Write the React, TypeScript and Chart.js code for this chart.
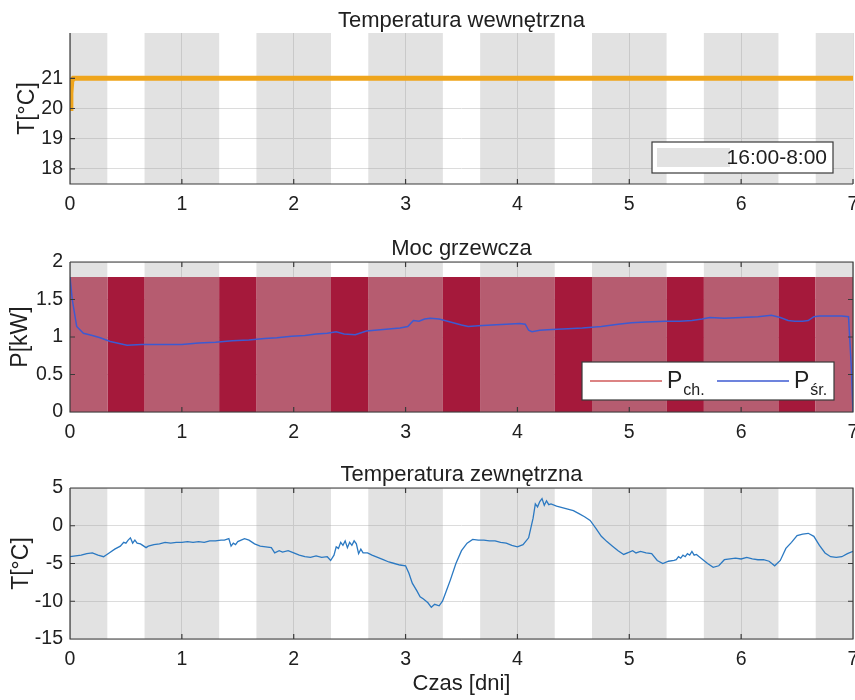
import React, { useEffect, useRef } from "react";
import { Chart, registerables } from "chart.js";

Chart.register(...registerables);

// ---------- data ----------
const xTicksDays = [0, 1, 2, 3, 4, 5, 6, 7];
const nightLabel = "16:00-8:00";
// night hours 16:00-8:00 expressed in days
const nightBands: [number, number][] = [
  [0, 1 / 3], [2 / 3, 4 / 3], [5 / 3, 7 / 3], [8 / 3, 10 / 3],
  [11 / 3, 13 / 3], [14 / 3, 16 / 3], [17 / 3, 19 / 3], [20 / 3, 7],
];
const dayBands: [number, number][] = [
  [1 / 3, 2 / 3], [4 / 3, 5 / 3], [7 / 3, 8 / 3], [10 / 3, 11 / 3],
  [13 / 3, 14 / 3], [16 / 3, 17 / 3], [19 / 3, 20 / 3],
];

// indoor temperature
const inTime = [0, 0.008, 0.016, 0.03, 7];
const inTemp = [20.0, 20.5, 20.9, 21.0, 21.0];
const inTempTicks = [18, 19, 20, 21];

// heating power
const pChMax = 1.8;
const pTicks = [0, 0.5, 1, 1.5, 2];
const pTime = [0, 0.02, 0.06, 0.12, 0.2, 0.27, 0.36, 0.45, 0.51, 0.64, 0.85, 1.0, 1.15, 1.3, 1.45, 1.6, 1.74, 1.85, 1.98, 2.1, 2.2, 2.3, 2.38, 2.45, 2.55, 2.65, 2.8, 2.95, 3.02, 3.07, 3.12, 3.17, 3.22, 3.3, 3.4, 3.5, 3.56, 3.65, 3.77, 3.9, 4.02, 4.07, 4.1, 4.13, 4.2, 4.31, 4.45, 4.58, 4.75, 4.9, 5.02, 5.15, 5.32, 5.45, 5.56, 5.65, 5.72, 5.85, 6.0, 6.15, 6.27, 6.35, 6.42, 6.48, 6.55, 6.6, 6.65, 6.7, 6.8, 6.9, 6.96, 6.985, 7.0];
const pAvg = [1.8, 1.5, 1.14, 1.05, 1.02, 0.99, 0.94, 0.91, 0.89, 0.9, 0.9, 0.9, 0.92, 0.93, 0.95, 0.96, 0.98, 0.99, 1.01, 1.02, 1.04, 1.05, 1.07, 1.04, 1.03, 1.08, 1.1, 1.12, 1.14, 1.22, 1.21, 1.24, 1.25, 1.24, 1.2, 1.16, 1.14, 1.15, 1.16, 1.17, 1.18, 1.17, 1.09, 1.07, 1.09, 1.1, 1.11, 1.12, 1.14, 1.17, 1.19, 1.2, 1.21, 1.21, 1.22, 1.24, 1.26, 1.25, 1.26, 1.27, 1.29, 1.26, 1.22, 1.21, 1.21, 1.22, 1.27, 1.28, 1.28, 1.28, 1.27, 0.6, 0];

// outdoor temperature
const outTicks = [-15, -10, -5, 0, 5];
const outTime = [
  0.0, 0.05, 0.1, 0.15, 0.2, 0.25, 0.3, 0.35, 0.4, 0.45, 0.48, 0.5, 0.52, 0.54, 0.56, 0.58, 0.6, 0.63, 0.65, 0.68, 0.7, 0.75, 0.8, 0.85, 0.9, 0.95,
  1.0, 1.05, 1.1, 1.15, 1.2, 1.25, 1.3, 1.35, 1.38, 1.42, 1.44, 1.46, 1.48, 1.5, 1.53, 1.56, 1.6, 1.65, 1.7, 1.75, 1.8, 1.83, 1.87, 1.9, 1.95,
  2.0, 2.05, 2.1, 2.15, 2.2, 2.25, 2.3, 2.33, 2.36, 2.38, 2.4, 2.42, 2.44, 2.46, 2.48, 2.5, 2.52, 2.54, 2.56, 2.58, 2.6, 2.62, 2.66, 2.7, 2.75, 2.8, 2.85, 2.9, 2.95,
  3.0, 3.03, 3.06, 3.1, 3.13, 3.16, 3.2, 3.23, 3.26, 3.3, 3.33, 3.36, 3.4, 3.45, 3.5, 3.55, 3.6, 3.65, 3.7, 3.75, 3.8, 3.85, 3.9, 3.95,
  4.0, 4.05, 4.1, 4.14, 4.16, 4.18, 4.2, 4.22, 4.24, 4.26, 4.28, 4.3, 4.35, 4.4, 4.45, 4.5, 4.55, 4.6, 4.65, 4.7, 4.75, 4.8, 4.85, 4.9, 4.95,
  5.0, 5.03, 5.06, 5.1, 5.15, 5.2, 5.25, 5.3, 5.35, 5.4, 5.42, 5.44, 5.46, 5.48, 5.5, 5.52, 5.54, 5.56, 5.58, 5.6, 5.65, 5.7, 5.75, 5.8, 5.85, 5.9, 5.95,
  6.0, 6.05, 6.1, 6.15, 6.2, 6.25, 6.3, 6.35, 6.4, 6.45, 6.5, 6.55, 6.6, 6.65, 6.7, 6.75, 6.8, 6.85, 6.9, 6.95, 7.0,
];
const outTemp = [
  -4.1, -4.0, -3.9, -3.7, -3.6, -3.9, -4.1, -3.6, -3.1, -2.7, -2.2, -2.3, -1.9, -1.6, -2.3, -1.9, -2.3, -2.4, -2.6, -2.9, -2.7, -2.5, -2.4, -2.2, -2.3, -2.2,
  -2.2, -2.1, -2.2, -2.1, -2.2, -2.0, -2.0, -1.9, -1.9, -1.7, -2.7, -2.3, -2.5, -2.1, -1.9, -1.7, -1.9, -2.4, -2.7, -2.8, -2.9, -3.6, -3.3, -3.5, -3.3,
  -3.6, -3.9, -4.1, -4.2, -4.0, -4.2, -4.1, -4.6, -3.9, -2.8, -3.0, -2.2, -2.6, -2.0, -2.9, -2.2, -2.6, -2.0, -2.4, -3.7, -3.1, -3.6, -3.6, -3.9, -4.2, -4.5, -4.8, -5.0, -5.2,
  -5.3, -6.3, -7.6, -8.6, -9.4, -9.7, -10.2, -10.8, -10.4, -10.6, -10.0, -8.8, -7.2, -5.0, -3.3, -2.3, -1.8, -1.9, -1.9, -2.0, -2.0, -2.2, -2.3, -2.6,
  -2.8, -2.5, -1.6, 1.0, 2.9, 2.5, 3.2, 3.6, 2.7, 3.3, 2.8, 2.9, 2.6, 2.4, 2.2, 2.0, 1.6, 1.2, 0.7, -0.3, -1.4, -2.1, -2.7, -3.3, -3.8,
  -3.5, -3.3, -3.6, -3.4, -3.6, -3.7, -4.6, -5.0, -4.7, -4.6, -4.5, -4.1, -4.3, -3.9, -4.1, -3.7, -3.9, -3.4, -3.9, -3.8, -4.4, -5.0, -5.5, -5.3, -4.5, -4.4, -4.3,
  -4.4, -4.2, -4.4, -4.5, -4.5, -4.7, -5.3, -4.6, -3.0, -2.2, -1.3, -1.1, -1.0, -1.4, -2.6, -3.6, -4.1, -4.2, -4.1, -3.7, -3.4,
];

// ---------- styles ----------
const FONT = "'Liberation Sans', Arial, Helvetica, sans-serif";
const TEXT = "#202020";
const AXIS = "#3a3a3a";
const GRID = "#dcdcdc";
const BAND = "rgba(160,160,160,0.30)";
const BAND_SOLID = "#e2e2e2";
const ORANGE = "#efa51c";
const DAY_RED = "#a5193b";
const NIGHT_RED = "#b65c70";
const LEG_RED = "#d05a5a";
const AVG_BLUE = "#3c5ad2";
const OUT_BLUE = "#2b79c2";

const pts = (xs: number[], ys: number[]) => ys.map((y, i) => ({ x: xs[i], y }));
const bandPoly = (bands: [number, number][], lo: number, hi: number) => {
  const out: { x: number; y: number }[] = [];
  bands.forEach(([a, b]) => {
    out.push({ x: a, y: lo }, { x: a, y: hi }, { x: b, y: hi }, { x: b, y: lo });
  });
  return out;
};

const fillSet = (data: any[], color: string, order: number) => ({
  data,
  fill: "start",
  backgroundColor: color,
  borderColor: "rgba(0,0,0,0)",
  borderWidth: 0,
  pointRadius: 0,
  order,
});

const framePlugin = {
  id: "frame",
  afterDatasetsDraw(chart: any, _a: any, opts: any) {
    const { ctx, chartArea, scales } = chart;
    const { left, right, top, bottom } = chartArea;
    ctx.save();
    ctx.strokeStyle = AXIS;
    ctx.lineWidth = 1.2;
    ctx.beginPath();
    ctx.moveTo(left, top);
    ctx.lineTo(left, bottom);
    ctx.lineTo(right, bottom);
    if (opts.box) {
      ctx.lineTo(right, top);
      ctx.lineTo(left, top);
    }
    const tl = 5;
    scales.x.ticks.forEach((t: any) => {
      const px = scales.x.getPixelForValue(t.value);
      ctx.moveTo(px, bottom);
      ctx.lineTo(px, bottom - tl);
      if (opts.box) {
        ctx.moveTo(px, top);
        ctx.lineTo(px, top + tl);
      }
    });
    scales.y.ticks.forEach((t: any) => {
      const py = scales.y.getPixelForValue(t.value);
      ctx.moveTo(left, py);
      ctx.lineTo(left + tl, py);
      if (opts.box) {
        ctx.moveTo(right, py);
        ctx.lineTo(right - tl, py);
      }
    });
    ctx.stroke();
    ctx.restore();
  },
};

const legendPlugin = {
  id: "boxLegend",
  afterDraw(chart: any, _a: any, opts: any) {
    if (!opts || !opts.kind) return;
    const { ctx, chartArea } = chart;
    ctx.save();
    if (opts.kind === "night") {
      const w = 181, h = 31;
      const x = chartArea.right - 20 - w;
      const y = chartArea.bottom - 11 - h;
      ctx.fillStyle = "#ffffff";
      ctx.fillRect(x, y, w, h);
      ctx.fillStyle = BAND_SOLID;
      ctx.fillRect(x + 5, y + 6, 73, 19);
      ctx.font = `21px ${FONT}`;
      ctx.fillStyle = TEXT;
      ctx.textAlign = "right";
      ctx.textBaseline = "middle";
      ctx.fillText(nightLabel, x + w - 6, y + h / 2 + 1);
      ctx.strokeStyle = AXIS;
      ctx.lineWidth = 1.2;
      ctx.strokeRect(x, y, w, h);
    } else {
      const w = 252, h = 38;
      const x = chartArea.right - 19 - w;
      const y = chartArea.bottom - 12 - h;
      ctx.fillStyle = "#ffffff";
      ctx.fillRect(x, y, w, h);
      const items = opts.items as { main: string; sub: string; color: string }[];
      const starts = [x + 8, x + 135];
      items.forEach((it, i) => {
        const sx = starts[i];
        ctx.strokeStyle = it.color;
        ctx.lineWidth = 1.6;
        ctx.beginPath();
        ctx.moveTo(sx, y + 19);
        ctx.lineTo(sx + 72, y + 19);
        ctx.stroke();
        ctx.fillStyle = TEXT;
        ctx.textAlign = "left";
        ctx.textBaseline = "alphabetic";
        ctx.font = `23px ${FONT}`;
        ctx.fillText(it.main, sx + 77, y + 26);
        const pw = ctx.measureText(it.main).width;
        ctx.font = `16px ${FONT}`;
        ctx.fillText(it.sub, sx + 78 + pw, y + 33);
      });
      ctx.strokeStyle = AXIS;
      ctx.lineWidth = 1.2;
      ctx.strokeRect(x, y, w, h);
    }
    ctx.restore();
  },
};

const fmt = (v: any) => String(Number(v));

const xScale = (h: number, title?: { text: string; pb: number }) => ({
  type: "linear",
  min: xTicksDays[0],
  max: xTicksDays[xTicksDays.length - 1],
  afterBuildTicks: (s: any) => {
    s.ticks = xTicksDays.map((v) => ({ value: v }));
  },
  ticks: {
    padding: 11,
    color: TEXT,
    font: { family: FONT, size: 19.5, lineHeight: 1 },
    maxRotation: 0,
    autoSkip: false,
    callback: fmt,
  },
  grid: { color: GRID, drawTicks: false, lineWidth: 1 },
  border: { display: false },
  title: title
    ? {
        display: true,
        text: title.text,
        color: TEXT,
        font: { family: FONT, size: 22, lineHeight: 1 },
        padding: { top: 0, bottom: title.pb },
      }
    : { display: false },
  afterFit: (s: any) => {
    s.height = h;
    s.paddingLeft = 0;
    s.paddingRight = 0;
  },
});

const yScale = (min: number, max: number, ticks: number[], text: string, pt: number) => ({
  type: "linear",
  min,
  max,
  afterBuildTicks: (s: any) => {
    s.ticks = ticks.map((v) => ({ value: v }));
  },
  ticks: {
    padding: 7,
    color: TEXT,
    font: { family: FONT, size: 19.5, lineHeight: 1 },
    autoSkip: false,
    callback: fmt,
  },
  grid: { color: GRID, drawTicks: false, lineWidth: 1 },
  border: { display: false },
  title: {
    display: true,
    text,
    color: TEXT,
    font: { family: FONT, size: 23, lineHeight: 1 },
    padding: { top: pt, bottom: 0 },
  },
  afterFit: (s: any) => {
    s.width = 70;
    s.paddingTop = 0;
    s.paddingBottom = 0;
  },
});

const titleOpt = (text: string, pt: number, pb: number) => ({
  display: true,
  text,
  fullSize: false,
  color: TEXT,
  font: { family: FONT, size: 22, weight: "normal", lineHeight: 1 },
  padding: { top: pt, bottom: pb },
});

const baseOptions = (extra: any) => ({
  responsive: false,
  animation: false,
  events: [],
  devicePixelRatio: 1,
  layout: { padding: { left: 0, right: 2, top: 0, bottom: 0 } },
  ...extra,
});

function config1(): any {
  return {
    type: "line",
    data: {
      datasets: [
        {
          label: "Temperatura wewnętrzna",
          data: pts(inTime, inTemp),
          borderColor: ORANGE,
          borderWidth: 5,
          pointRadius: 0,
          fill: false,
          order: 0,
        },
        fillSet(bandPoly(nightBands, 17.5, 22.5), BAND, 5),
      ],
    },
    options: baseOptions({
      scales: {
        x: xScale(36),
        y: yScale(17.5, 22.5, inTempTicks, "T[°C]", 16.5),
      },
      plugins: {
        legend: { display: false },
        tooltip: { enabled: false },
        title: titleOpt("Temperatura wewnętrzna", 10, 1),
        frame: { box: false },
        boxLegend: { kind: "night" },
      },
    }),
    plugins: [framePlugin, legendPlugin],
  };
}

function config2(): any {
  return {
    type: "line",
    data: {
      datasets: [
        {
          label: "P śr.",
          data: pts(pTime, pAvg),
          borderColor: AVG_BLUE,
          borderWidth: 1.5,
          pointRadius: 0,
          fill: false,
          order: 0,
        },
        fillSet(bandPoly(dayBands, 0, pChMax), DAY_RED, 1),
        fillSet(bandPoly(nightBands, 0, pChMax), NIGHT_RED, 2),
        fillSet(bandPoly(nightBands, 0, 2), BAND, 5),
      ],
    },
    options: baseOptions({
      scales: {
        x: xScale(36),
        y: yScale(0, 2, pTicks, "P[kW]", 9.3),
      },
      plugins: {
        legend: { display: false },
        tooltip: { enabled: false },
        title: titleOpt("Moc grzewcza", 15.7, 2.3),
        frame: { box: true },
        boxLegend: {
          kind: "power",
          items: [
            { main: "P", sub: "ch.", color: LEG_RED },
            { main: "P", sub: "śr.", color: AVG_BLUE },
          ],
        },
      },
    }),
    plugins: [framePlugin, legendPlugin],
  };
}

function config3(): any {
  return {
    type: "line",
    data: {
      datasets: [
        {
          label: "Temperatura zewnętrzna",
          data: pts(outTime, outTemp),
          borderColor: OUT_BLUE,
          borderWidth: 1.3,
          pointRadius: 0,
          fill: false,
          order: 0,
        },
        fillSet(bandPoly(nightBands, -15, 5), BAND, 5),
      ],
    },
    options: baseOptions({
      scales: {
        x: xScale(61, { text: "Czas [dni]", pb: 5 }),
        y: yScale(-15, 5, outTicks, "T[°C]", 9.9),
      },
      plugins: {
        legend: { display: false },
        tooltip: { enabled: false },
        title: titleOpt("Temperatura zewnętrzna", 16.4, 1.6),
        frame: { box: true },
        boxLegend: {},
      },
    }),
    plugins: [framePlugin, legendPlugin],
  };
}

export default function App() {
  const r1 = useRef<HTMLCanvasElement>(null);
  const r2 = useRef<HTMLCanvasElement>(null);
  const r3 = useRef<HTMLCanvasElement>(null);

  useEffect(() => {
    const charts = [
      new Chart(r1.current as HTMLCanvasElement, config1()),
      new Chart(r2.current as HTMLCanvasElement, config2()),
      new Chart(r3.current as HTMLCanvasElement, config3()),
    ];
    return () => charts.forEach((c) => c.destroy());
  }, []);

  const cs = (top: number, h: number): React.CSSProperties => ({
    position: "absolute",
    left: 0,
    top,
    width: 855,
    height: h,
    display: "block",
  });

  return (
    <div style={{ position: "absolute", left: 0, top: 0, width: 855, height: 700, background: "#ffffff", overflow: "hidden" }}>
      <canvas ref={r1} width={855} height={220} style={cs(0, 220)} />
      <canvas ref={r2} width={855} height={226} style={cs(222, 226)} />
      <canvas ref={r3} width={855} height={252} style={cs(448, 252)} />
    </div>
  );
}
